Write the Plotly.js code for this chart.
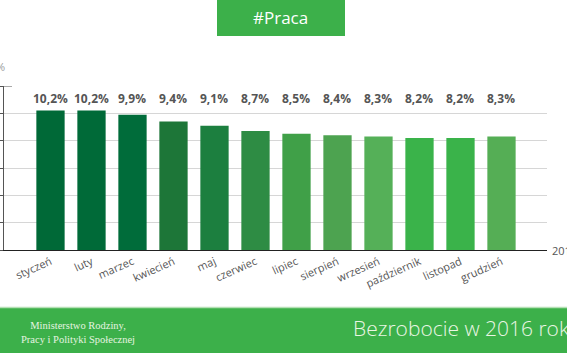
<!DOCTYPE html>
<html>
<head>
<meta charset="utf-8">
<script src="https://cdn.plot.ly/plotly-3.0.1.min.js"></script>
<style>html,body{margin:0;padding:0;background:#fff;overflow:hidden;}#chart{width:567px;height:353px;}</style>
</head>
<body>
<div id="chart"></div>
<script>
const months = ["styczeń","luty","marzec","kwiecień","maj","czerwiec","lipiec","sierpień","wrzesień","październik","listopad","grudzień"];
const rates = [10.2, 10.2, 9.9, 9.4, 9.1, 8.7, 8.5, 8.4, 8.3, 8.2, 8.2, 8.3];
const rateLabels = ["10,2%","10,2%","9,9%","9,4%","9,1%","8,7%","8,5%","8,4%","8,3%","8,2%","8,2%","8,3%"];
const barColors = ["#006937","#006a38","#006c3a","#1d7638","#1c7f3f","#2e8c44","#40a048","#4da350","#55b058","#3ab34a","#3ab34a","#55ae55"];
const yTicks = [0,2,4,6,8,10,12];
const gridVals = [2,4,6,8,10];

const F = "Open Sans, Noto Sans, sans-serif";

const bars = {
  type: "bar", x: months, y: rates,
  marker: {color: barColors, line: {width: 0}},
  hoverinfo: "skip", yaxis: "y"
};
const gridTrace = {
  type: "scatter", x: [months[0]], y: [null], yaxis: "y2", showlegend: false, hoverinfo: "skip"
};

const annotations = months.map((m, i) => ({
  x: m, y: 11.05, xref: "x", yref: "y", text: "<b>" + rateLabels[i] + "</b>",
  showarrow: false, font: {family: F, size: 12, color: "#555555"}
}));
annotations.push({x: 1, y: 0, xref: "paper", yref: "y", xanchor: "left", yanchor: "middle", xshift: 3,
  text: "2016", showarrow: false, font: {family: F, size: 11, color: "#555555"}});
annotations.push({x: 0, y: (250-67)/164, xref: "paper", yref: "paper", xanchor: "right", yanchor: "middle", xshift: 3,
  text: "%", showarrow: false, font: {family: F, size: 11, color: "#999999"}});
annotations.push({x: 0.510, y: 1.415, xref: "paper", yref: "paper", xanchor: "center", yanchor: "middle",
  text: "#Praca", showarrow: false, font: {family: F, size: 17, color: "#ffffff"}});
annotations.push({x: (78-4)/543, y: (250-332)/164, xref: "paper", yref: "paper", xanchor: "center", yanchor: "middle",
  align: "center", text: "Ministerstwo Rodziny,<br>Pracy i Polityki Społecznej", showarrow: false,
  font: {family: "Liberation Serif, DejaVu Serif, serif", size: 10.5, color: "#e6f4e0"}});
annotations.push({x: (351-4)/543, y: (250-328)/164, xref: "paper", yref: "paper", xanchor: "left", yanchor: "middle",
  text: "Bezrobocie w 2016 roku", showarrow: false,
  font: {family: F, size: 21, color: "#eaf6e4", weight: 300}});

const shapes = [
  {type: "rect", xref: "paper", yref: "paper", x0: -0.02, x1: 1.06, y0: (250-308)/164, y1: (250-360)/164,
   fillcolor: "#3cb04a", line: {width: 0}, layer: "below"},
  {type: "line", xref: "paper", yref: "paper", x0: -0.02, x1: 1.06, y0: (250-307.5)/164, y1: (250-307.5)/164,
   line: {color: "#b5e0b5", width: 1.5}, layer: "below"},
  {type: "rect", xref: "paper", yref: "paper", x0: (217-4)/543, x1: (345-4)/543, y0: (250-36)/164, y1: (250+5)/164,
   fillcolor: "#3cb04a", line: {width: 0}, layer: "below"},
  {type: "line", xref: "paper", yref: "y", x0: 0, x1: (12-4)/543, y0: 12, y1: 12,
   line: {color: "#555555", width: 1}}
];

const layout = {
  width: 567, height: 353,
  margin: {l: 4, r: 20, t: 86, b: 103},
  paper_bgcolor: "#ffffff", plot_bgcolor: "rgba(0,0,0,0)",
  showlegend: false, bargap: 0.31,
  xaxis: {
    type: "category", range: [-1.134, 12.11], tickangle: -24,
    tickfont: {family: F, size: 11, color: "#555555"},
    showline: true, linecolor: "#222222", linewidth: 1.2,
    showgrid: false, ticks: "", fixedrange: true
  },
  yaxis: {
    range: [0, 12], tickvals: yTicks, showticklabels: false,
    showgrid: false, zeroline: false,
    showline: true, linecolor: "#555555", linewidth: 1,
    ticks: "outside", ticklen: 3, tickcolor: "#555555"
  },
  yaxis2: {
    range: [0, 12], overlaying: "y", tickvals: gridVals, showticklabels: false,
    showgrid: true, gridcolor: "#d6d6d6", gridwidth: 1, zeroline: false, showline: false, ticks: "",
    layer: "below traces"
  },
  annotations: annotations,
  shapes: shapes
};

Plotly.newPlot("chart", [gridTrace, bars], layout, {displayModeBar: false, staticPlot: true});
</script>
</body>
</html>
